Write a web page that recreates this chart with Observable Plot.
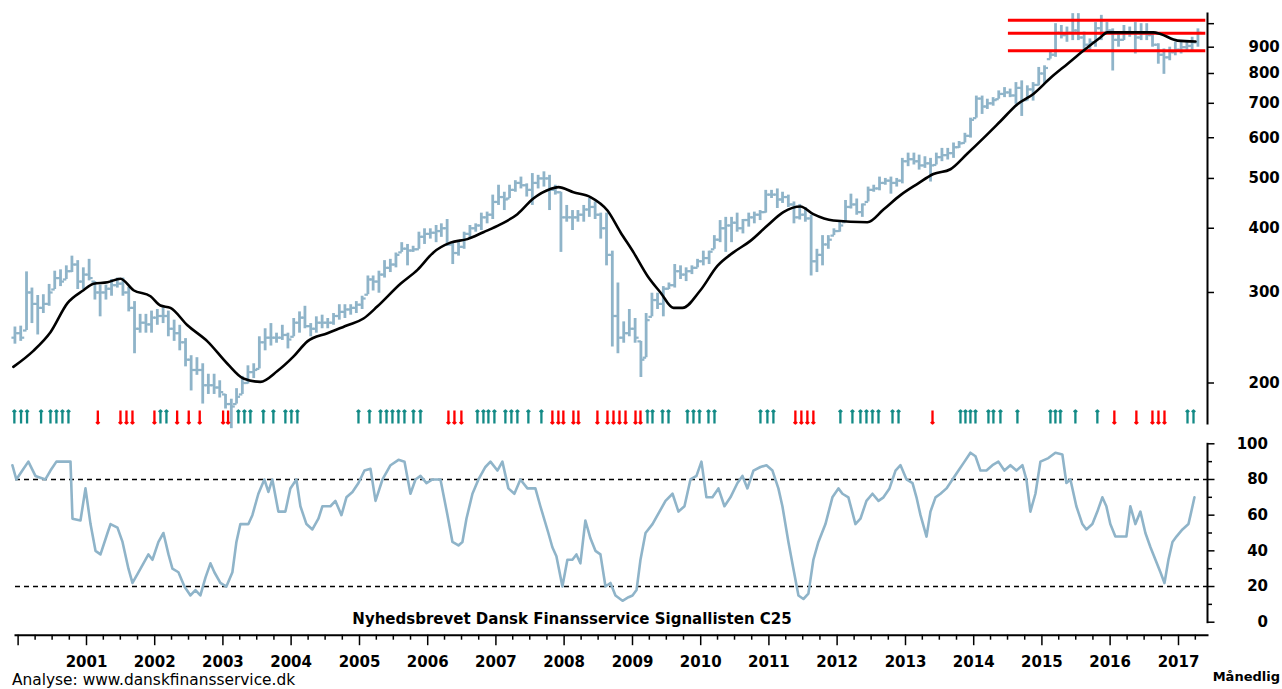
<!DOCTYPE html>
<html><head><meta charset="utf-8">
<script src="https://cdn.jsdelivr.net/npm/d3@7"></script>
<script src="https://cdn.jsdelivr.net/npm/@observablehq/plot@0.6"></script>
<style>
body{margin:0;background:#fff;}
#wrap{position:relative;width:1282px;height:689px;overflow:hidden;font-family:"DejaVu Sans",sans-serif;background:#fff;}
#wrap svg{position:absolute;left:0;}
.lbl{position:absolute;white-space:nowrap;color:#000;line-height:18px;}
</style></head><body>
<div id="wrap"></div>
<script>
// ---- monthly OHLC bars, Dec 1999 .. Apr 2017 ----
const barHigh = [257,258,329,306,296,297,311,330,332,338, 353,346,335,348,315,310,310,318,320,320, 307,288,272,272,276,278,280,276,265,259, 244,226,224,218,208,208,202,190,186,195, 206,216,218,246,255,261,250,259,250,267, 275,282,261,269,271,267,273,284,284,284, 288,295,323,323,330,346,348,358,375,372, 369,393,399,399,405,408,416,375,375,393, 405,408,428,430,464,485,470,485,495,503, 488,511,507,515,507,485,470,443,433,433, 443,457,450,428,428,361,313,263,278,267, 241,273,299,299,308,313,340,338,335,338, 348,361,361,387,414,420,420,428,416,428, 430,433,474,474,477,470,464,450,445,439, 424,364,387,387,399,411,453,466,456,446, 481,485,503,500,503,500,547,560,560,555, 551,547,560,572,572,586,590,612,655,723, 723,713,718,740,751,746,768,774,757,768, 822,828,886,1000,992,985,1046,1046,963,934, 1005,1038,1005,977,956,992,985,1005,1000,1000, 963,914,893,900,920,920,927,941,977];
const barLow = [238,241,253,261,248,273,282,304,308,318, 328,304,304,316,290,269,290,295,306,295, 275,228,250,250,250,259,261,246,241,231, 215,193,207,182,190,190,187,178,163,182, 190,199,204,213,231,236,239,242,233,246, 250,255,246,250,255,255,259,265,267,271, 273,278,297,302,299,320,328,335,359,338, 359,364,372,381,375,384,369,340,353,364, 381,393,396,408,416,443,433,457,470,477, 460,443,477,481,433,464,359,411,396,411, 411,420,416,381,338,235,228,239,246,239, 205,224,269,278,269,304,306,318,315,325, 335,338,340,364,375,359,375,393,390,402, 408,414,428,457,437,447,439,408,415,411, 323,328,338,364,387,393,411,436,424,420, 450,470,473,485,466,481,488,527,531,519, 523,492,531,539,543,547,572,586,599,655, 666,681,691,713,718,718,697,660,707,707, 757,762,853,860,934,920,927,927,886,886, 900,927,956,809,900,927,941,873,927,927, 900,834,797,847,866,873,880,886,900];
const barOpen = [245,250,253,300,285,280,285,304,320,318, 330,340,315,325,315,300,300,305,310,312, 300,280,255,262,260,268,270,270,255,250, 240,222,212,212,198,198,196,190,182,182, 190,200,210,213,240,245,245,245,248,246, 262,268,258,255,262,262,262,270,275,278, 280,284,297,318,315,325,335,340,359,365, 362,364,385,390,392,395,400,372,358,368, 390,400,405,420,425,450,460,457,475,490, 485,475,490,500,500,475,470,420,420,420, 425,435,440,425,400,355,270,245,250,255, 241,224,269,290,285,305,310,330,325,330, 335,345,350,364,380,400,405,410,400,415, 420,425,430,465,465,455,460,445,420,425, 418,345,355,372,387,395,411,440,445,430, 450,475,478,490,495,490,495,540,545,540, 530,535,531,550,555,560,575,586,605,655, 715,690,700,713,730,735,725,750,710,745, 760,800,853,870,960,950,960,970,940,910, 920,980,960,970,930,930,960,960,940,960, 950,910,870,860,880,890,900,905,920];
const barClose = [250,245,300,285,280,285,300,320,315,330, 340,315,325,320,300,300,305,310,312,300, 280,255,262,260,268,270,270,255,250,240, 222,212,212,198,198,196,192,182,180,188, 200,210,212,240,245,245,245,248,243,262, 268,258,255,262,262,262,270,275,278,280, 284,292,318,315,325,335,340,355,365,362, 364,385,390,392,395,400,372,358,368,390, 400,405,420,425,450,460,455,475,490,485, 475,490,500,500,475,470,420,420,420,425, 435,440,425,400,355,270,245,250,255,245, 222,265,290,285,305,310,330,325,330,335, 345,350,360,380,400,405,410,400,415,420, 425,430,465,465,455,460,445,420,425,418, 345,355,372,380,395,405,440,445,430,445, 475,478,490,495,490,495,540,545,540,530, 535,530,550,555,560,575,585,605,650,715, 690,700,710,730,735,725,750,710,745,760, 800,820,870,960,950,960,970,940,910,920, 980,960,970,930,930,960,960,940,960,950, 910,870,860,880,890,900,905,920,960];

// ---- moving average (decimal year, value) ----
const maYear = [1999.930,2000.223,2000.473,2000.722,2000.956,2001.103,2001.308,2001.498,2001.689,2001.938, 2002.084,2002.231,2002.480,2002.773,2003.066,2003.300,2003.549,2003.799,2004.033,2004.238, 2004.531,2004.824,2005.059,2005.264,2005.601,2005.850,2006.084,2006.333,2006.582,2006.817, 2007.066,2007.315,2007.549,2007.799,2007.916,2008.136,2008.385,2008.634,2008.824,2009.015, 2009.220,2009.410,2009.601,2009.733,2009.996,2010.245,2010.480,2010.729,2010.978,2011.212, 2011.462,2011.652,2011.945,2012.443,2012.678,2012.927,2013.176,2013.410,2013.659,2013.908, 2014.143,2014.392,2014.641,2014.875,2015.125,2015.374,2015.608,2015.857,2015.960,2016.341, 2016.634,2016.736,2016.985,2017.249];
const maValue = [215,231,251,286,303,312,314,319,303,295, 283,280,259,241,218,204,201,211,225,241, 250,259,267,282,312,332,359,375,381,393, 407,426,457,477,481,470,460,433,393,359, 323,300,280,280,303,338,359,378,405,430, 441,426,414,411,435,464,488,510,521,559, 599,646,697,730,784,835,886,940,962,962, 962,955,927,923];

// ---- resistance / support levels ----
const redLevels = [1015, 958, 886];
const redSpan = [2014.509, 2017.40];

// ---- signals ----
const upYears = [1999.945,2000.043,2000.131,2000.336,2000.473,2000.560,2000.648,2000.736,2002.084,2002.172, 2003.227,2003.315,2003.403,2003.593,2003.740,2003.916,2004.004,2004.092,2004.985,2005.146, 2005.308,2005.396,2005.483,2005.571,2005.659,2005.791,2005.894,2006.729,2006.817,2006.890, 2006.978,2007.139,2007.227,2007.315,2007.476,2007.667,2009.220,2009.293,2009.440,2009.528, 2009.806,2009.894,2009.982,2010.114,2010.202,2010.876,2010.978,2011.066,2012.048,2012.224, 2012.341,2012.429,2012.517,2012.605,2012.810,2012.898,2013.806,2013.879,2013.952,2014.026, 2014.216,2014.289,2014.392,2014.641,2015.125,2015.198,2015.271,2015.491,2015.813,2017.132, 2017.220];
const downYears = [2001.166,2001.498,2001.586,2001.674,2001.996,2002.329,2002.499,2002.660,2003.003,2003.076, 2006.304,2006.392,2006.494,2007.828,2007.916,2007.989,2008.136,2008.209,2008.487,2008.634, 2008.722,2008.810,2008.898,2009.044,2009.117,2011.388,2011.476,2011.564,2011.652,2013.396, 2016.062,2016.384,2016.619,2016.707,2016.795];

// ---- oscillator (decimal year, value) ----
const oscYear = [1999.916,1999.974,2000.062,2000.150,2000.253,2000.399,2000.473,2000.560,2000.766,2000.795, 2000.912,2000.985,2001.059,2001.132,2001.205,2001.308,2001.352,2001.454,2001.528,2001.615, 2001.674,2001.747,2001.835,2001.908,2001.967,2002.055,2002.128,2002.202,2002.260,2002.348, 2002.436,2002.524,2002.597,2002.670,2002.744,2002.817,2002.875,2002.963,2003.051,2003.139, 2003.198,2003.256,2003.374,2003.432,2003.520,2003.608,2003.667,2003.725,2003.813,2003.916, 2003.989,2004.077,2004.136,2004.224,2004.311,2004.399,2004.458,2004.575,2004.648,2004.736, 2004.809,2004.897,2004.985,2005.073,2005.161,2005.235,2005.337,2005.455,2005.572,2005.660, 2005.747,2005.821,2005.894,2005.982,2006.070,2006.187,2006.290,2006.363,2006.451,2006.509, 2006.568,2006.656,2006.744,2006.846,2006.920,2007.022,2007.095,2007.183,2007.271,2007.359, 2007.462,2007.579,2007.652,2007.769,2007.828,2007.887,2007.975,2008.048,2008.121,2008.180, 2008.238,2008.311,2008.385,2008.458,2008.531,2008.605,2008.678,2008.751,2008.854,2008.942, 2009.000,2009.059,2009.117,2009.191,2009.293,2009.367,2009.484,2009.587,2009.674,2009.762, 2009.850,2009.938,2010.011,2010.084,2010.172,2010.260,2010.348,2010.436,2010.539,2010.612, 2010.685,2010.773,2010.876,2010.964,2011.052,2011.139,2011.198,2011.286,2011.359,2011.433, 2011.506,2011.579,2011.652,2011.726,2011.829,2011.931,2012.019,2012.078,2012.165,2012.268, 2012.341,2012.429,2012.517,2012.605,2012.678,2012.766,2012.854,2012.927,2013.015,2013.103, 2013.161,2013.220,2013.308,2013.366,2013.440,2013.513,2013.601,2013.689,2013.777,2013.865, 2013.952,2014.026,2014.099,2014.187,2014.275,2014.362,2014.450,2014.538,2014.626,2014.714, 2014.773,2014.831,2014.905,2014.978,2015.095,2015.198,2015.300,2015.359,2015.418,2015.505, 2015.593,2015.652,2015.740,2015.813,2015.886,2015.945,2016.003,2016.077,2016.150,2016.238, 2016.296,2016.370,2016.443,2016.516,2016.590,2016.663,2016.736,2016.795,2016.853,2016.912, 2016.970,2017.058,2017.146,2017.176,2017.234];
const oscValue = [88,80,85,90,82,80,85,90,90,58, 57,75,55,40,38,50,55,53,45,30, 22,27,33,38,35,45,50,38,30,28, 20,15,18,15,25,33,28,22,20,28, 45,55,55,60,72,80,73,80,62,62, 75,80,65,55,52,58,65,65,68,60, 70,73,78,85,86,68,80,88,91,90, 72,80,82,78,80,80,60,45,43,45, 58,72,80,87,90,85,90,75,72,80, 75,75,65,50,42,37,20,35,35,38, 33,57,47,40,38,20,22,15,12,14, 15,18,35,50,55,60,68,72,62,65, 80,82,90,70,70,75,65,70,78,82, 75,85,87,88,85,75,65,45,30,15, 13,16,35,45,55,70,75,72,70,55, 58,68,72,68,70,75,85,88,80,78, 70,60,48,62,70,72,75,80,85,90, 95,93,85,85,88,90,85,88,85,88, 80,62,72,90,92,95,94,78,80,65, 55,52,55,62,70,65,55,48,48,48, 65,55,62,50,42,35,28,22,35,45, 48,52,55,60,70];
const oscLevels = [20, 80];

// ---- ticks ----
const priceTicks = [200,300,400,500,600,700,800,900,1000];
const oscMajorTicks = [0,20,40,60,80,100];
const oscMinorTicks = [10,30,50,70,90];
const yearTicks = d3.range(2000, 2018);

// ---- build ----
const yearToDate = t => { const y = Math.floor(t); const a = Date.UTC(y,0,1), b = Date.UTC(y+1,0,1); return new Date(a + (t - y) * (b - a)); };
const months = d3.utcMonth.range(new Date(Date.UTC(1999,11,1)), new Date(Date.UTC(2017,4,1)));
const bars = months.map((m, i) => ({date: d3.utcDay.offset(m, 14), hi: barHigh[i], lo: barLow[i], open: barOpen[i], close: barClose[i]}));
const ma = maYear.map((t, i) => ({date: yearToDate(t), v: maValue[i]}));
const osc = oscYear.map((t, i) => ({date: yearToDate(t), v: oscValue[i]}));
const reds = redLevels.map(v => ({y: v, x1: yearToDate(redSpan[0]), x2: yearToDate(redSpan[1])}));
const ups = upYears.map(yearToDate);
const downs = downYears.map(yearToDate);
const yearDates = yearTicks.map(y => new Date(Date.UTC(y,0,1)));
const quarterDates = d3.utcMonth.every(3).range(new Date(Date.UTC(2000,0,1)), new Date(Date.UTC(2017,6,1))).filter(d => d.getUTCMonth() !== 0);

const xScale = {type: "utc", domain: [new Date(Date.UTC(2001,0,1)), new Date(Date.UTC(2017,0,1))], range: [86, 1178], axis: null};
const blue = "#8fb4c9";
const font = {fontFamily: "'DejaVu Sans', sans-serif", fontSize: "15px", background: "transparent", color: "#000"};

const topPlot = Plot.plot({
  width: 1282, height: 430, marginTop: 13, marginRight: 75, marginBottom: 7, marginLeft: 15,
  style: font,
  x: xScale,
  y: {type: "log", domain: [200, 900], range: [382.5, 46.7], axis: null},
  marks: [
    Plot.ruleX(bars, {x: "date", y1: "lo", y2: "hi", stroke: blue, strokeWidth: 2.8}),
    Plot.vector(bars, {x: "date", y: "open", length: 3.5, rotate: 270, anchor: "start", shape: "arrow", r: 0, stroke: blue, strokeWidth: 2.2, strokeLinecap: "butt"}),
    Plot.vector(bars, {x: "date", y: "close", length: 3.5, rotate: 90, anchor: "start", shape: "arrow", r: 0, stroke: blue, strokeWidth: 2.2, strokeLinecap: "butt"}),
    Plot.ruleY(reds, {y: "y", x1: "x1", x2: "x2", stroke: "#ff0000", strokeWidth: 3}),
    Plot.line(ma, {x: "date", y: "v", stroke: "#000", strokeWidth: 2.6, curve: "monotone-x"}),
    Plot.vector(ups, {x: d => d, frameAnchor: "bottom", anchor: "start", rotate: 0, length: 13, r: 2.2, stroke: "#138a86", strokeWidth: 2.3, strokeLinecap: "butt"}),
    Plot.vector(downs, {x: d => d, frameAnchor: "bottom", anchor: "end", rotate: 180, length: 13, r: 2.2, stroke: "#ff0000", strokeWidth: 2.3, strokeLinecap: "butt"}),
    Plot.frame({anchor: "right", strokeWidth: 2}),
    Plot.axisY(priceTicks, {anchor: "right", label: null, tickSize: 6, tickPadding: 35, tickFormat: d => d === 1000 ? "" : String(d), fontSize: 15, fontWeight: "bold", strokeWidth: 1.5})
  ]
});
topPlot.style.top = "0px";

const botPlot = Plot.plot({
  width: 1282, height: 259, marginTop: 13.3, marginRight: 75, marginBottom: 54.3, marginLeft: 15,
  style: font,
  x: xScale,
  y: {domain: [0, 100], range: [191.7, 13.3], axis: null},
  marks: [
    Plot.ruleY(oscLevels, {stroke: "#000", strokeWidth: 1.3, strokeDasharray: "5,4"}),
    Plot.line(osc, {x: "date", y: "v", stroke: blue, strokeWidth: 2.6}),
    Plot.frame({anchor: "bottom", strokeWidth: 2}),
    Plot.frame({anchor: "right", insetBottom: 13, strokeWidth: 2}),
    Plot.axisX(yearDates, {anchor: "bottom", label: null, tickSize: 10.5, tickPadding: 11, tickFormat: d => d.getUTCFullYear() === 2000 ? "" : String(d.getUTCFullYear()), fontSize: 15, fontWeight: "bold", strokeWidth: 1.5}),
    Plot.axisX(quarterDates, {anchor: "bottom", label: null, tickSize: 5, tickFormat: () => "", strokeWidth: 1.5}),
    Plot.axisY(oscMajorTicks, {anchor: "right", label: null, tickSize: 6.5, tickPadding: 54, textAnchor: "end", fontSize: 15, fontWeight: "bold", strokeWidth: 1.5}),
    Plot.axisY(oscMinorTicks, {anchor: "right", label: null, tickSize: 4, tickFormat: () => "", strokeWidth: 1.5})
  ]
});
botPlot.style.top = "430px";

const wrap = document.getElementById("wrap");
wrap.appendChild(topPlot);
wrap.appendChild(botPlot);

function label(text, css) {
  const d = document.createElement("div");
  d.className = "lbl";
  d.textContent = text;
  Object.assign(d.style, css);
  wrap.appendChild(d);
}
label("Nyhedsbrevet Dansk Finansservice Signallisten C25", {left: "572px", top: "610px", transform: "translateX(-50%)", fontSize: "15px", fontWeight: "bold"});
label("Analyse: www.danskfinansservice.dk", {left: "12px", top: "671px", fontSize: "15.4px"});
label("Månedlig", {right: "2px", top: "668px", fontSize: "13px", fontWeight: "bold"});
</script>
</body></html>
